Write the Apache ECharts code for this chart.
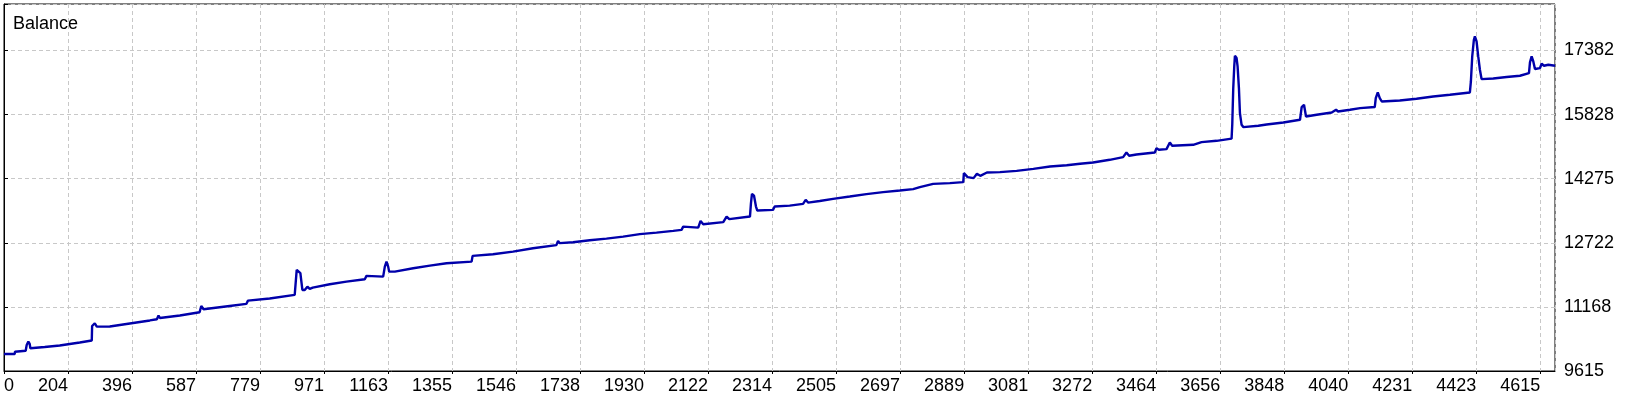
<!DOCTYPE html>
<html>
<head>
<meta charset="utf-8">
<script src="https://cdn.jsdelivr.net/npm/echarts@6/dist/echarts.min.js"></script>
<style>
html,body{margin:0;padding:0;background:#fff;}
#chart{width:1640px;height:400px;}
</style>
</head>
<body>
<div id="chart"></div>
<script>
// Trade number (x) of each traced point
const tradeIdx = [
  0, 32, 33, 65, 68, 73, 77, 79, 122, 167, 227, 263, 264, 272, 278, 317, 377, 437, 458, 463,
  467, 527, 586, 591, 598, 676, 726, 731, 796, 871, 877, 882, 888, 891, 894, 901, 909, 916, 925, 976,
  1026, 1081, 1086, 1091, 1136, 1141, 1146, 1151, 1154, 1171, 1226, 1276, 1326, 1401, 1404, 1465, 1525, 1585, 1655, 1660,
  1665, 1705, 1755, 1805, 1855, 1905, 1955, 2005, 2030, 2035, 2040, 2080, 2087, 2095, 2155, 2165, 2173, 2235, 2238, 2241,
  2247, 2253, 2257, 2304, 2309, 2354, 2394, 2402, 2409, 2444, 2484, 2534, 2584, 2634, 2684, 2724, 2744, 2784, 2834, 2874,
  2876, 2881, 2887, 2905, 2915, 2925, 2945, 2984, 3034, 3084, 3134, 3184, 3224, 3263, 3313, 3353, 3363, 3371, 3393, 3448,
  3453, 3460, 3483, 3493, 3500, 3563, 3588, 3633, 3678, 3680, 3683, 3686, 3688, 3693, 3696, 3700, 3703, 3708, 3713, 3758,
  3783, 3833, 3883, 3888, 3895, 3901, 3933, 3978, 3991, 3997, 4033, 4063, 4107, 4110, 4116, 4122, 4128, 4182, 4232, 4282,
  4332, 4392, 4395, 4399, 4404, 4407, 4412, 4417, 4422, 4427, 4462, 4502, 4542, 4569, 4572, 4577, 4582, 4587, 4602, 4607,
  4614, 4627, 4647
];
// Balance at each traced point
const balance = [
  10027, 10027, 10083, 10107, 10245, 10326, 10270, 10165, 10197, 10233, 10306, 10355, 10706, 10772, 10689, 10694, 10767, 10840, 10869, 10961,
  10900, 10961, 11038, 11191, 11111, 11191, 11240, 11320, 11373, 11458, 12064, 12088, 11984, 11780, 11579, 11579, 11659, 11603, 11635, 11717,
  11780, 11839, 11919, 11877, 11902, 12144, 12265, 12144, 12023, 12023, 12105, 12168, 12227, 12265, 12404, 12445, 12508, 12590, 12665, 12767,
  12712, 12736, 12784, 12823, 12872, 12930, 12969, 13010, 13034, 13114, 13075, 13090, 13252, 13172, 13221, 13357, 13294, 13357, 13682, 13907,
  13866, 13599, 13502, 13519, 13599, 13623, 13665, 13762, 13696, 13734, 13786, 13842, 13900, 13948, 13987, 14021, 14070, 14150, 14167, 14191,
  14409, 14448, 14312, 14288, 14392, 14344, 14424, 14433, 14465, 14513, 14569, 14600, 14635, 14666, 14732, 14797, 14909, 14829, 14860, 14909,
  15015, 14974, 14991, 15151, 15071, 15095, 15161, 15192, 15245, 15580, 16470, 16994, 17253, 17198, 16994, 16470, 15864, 15580, 15525, 15556,
  15588, 15636, 15702, 16010, 16065, 15782, 15823, 15879, 15944, 15903, 15944, 15985, 16010, 16228, 16364, 16228, 16145, 16170, 16211, 16267,
  16308, 16364, 16630, 17237, 17641, 17721, 17600, 17237, 16914, 16688, 16703, 16737, 16769, 16834, 17091, 17237, 17115, 16931, 16955, 17059,
  17011, 17035, 17011
];
const xTickLabels = ['0','204','396','587','779','971','1163','1355','1546','1738','1930','2122','2314','2505','2697','2889','3081','3272','3464','3656','3848','4040','4231','4423','4615'];
const yTickLabels = ['9615','11168','12722','14275','15828','17382'];

const xInterval = 191.78, xMax = 4647;
const yMin = 9615, yInterval = 1553.4, yMax = 18507;

const seriesData = tradeIdx.map((x, i) => [x, balance[i]]);
const font = 'Liberation Sans';

const chart = echarts.init(document.getElementById('chart'), null, {renderer: 'canvas'});
chart.setOption({
  animation: false,
  backgroundColor: '#ffffff',
  title: {
    text: 'Balance', left: 8, top: 10,
    textStyle: {fontFamily: font, fontSize: 18, fontWeight: 'normal', color: '#000'}
  },
  grid: {left: 4, right: 85, top: 4, bottom: 29, show: true, borderColor: '#000', borderWidth: 1, backgroundColor: 'transparent'},
  xAxis: {
    type: 'value', min: 0, max: xMax, interval: xInterval,
    axisLine: {show: true, lineStyle: {color: '#000', width: 1}},
    axisTick: {show: true, length: 3, lineStyle: {color: '#000'}},
    splitLine: {show: true, lineStyle: {color: '#c8c8c8', type: [4, 3], width: 1}},
    axisLabel: {
      margin: 6, color: '#000', fontFamily: font, fontSize: 18, align: 'right',
      alignMinLabel: 'left', showMaxLabel: false,
      formatter: v => {
        const k = Math.round(v / xInterval);
        if (Math.abs(v - k * xInterval) > 1 || k >= xTickLabels.length) return '';
        return xTickLabels[k];
      }
    }
  },
  yAxis: {
    type: 'value', position: 'right', min: yMin, max: yMax, interval: yInterval,
    axisLine: {show: true, lineStyle: {color: '#000', width: 1}},
    axisTick: {show: true, length: 4, lineStyle: {color: '#000'}},
    splitLine: {show: true, lineStyle: {color: '#c8c8c8', type: [4, 3], width: 1}},
    axisLabel: {
      margin: 9, color: '#000', fontFamily: font, fontSize: 18,
      formatter: v => {
        const k = Math.round((v - yMin) / yInterval);
        if (Math.abs(v - (yMin + k * yInterval)) > 1 || k >= yTickLabels.length) return '';
        return yTickLabels[k];
      }
    }
  },
  series: [{
    type: 'line', data: seriesData, showSymbol: false, symbol: 'none',
    lineStyle: {color: '#0000aa', width: 2.4}, itemStyle: {color: '#0000aa'}
  }]
});
</script>
</body>
</html>
